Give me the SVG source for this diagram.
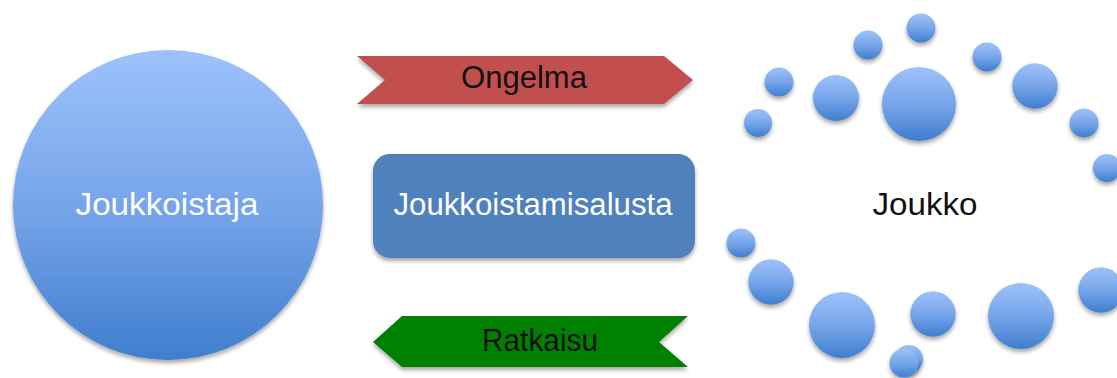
<svg xmlns="http://www.w3.org/2000/svg" width="1117" height="378" viewBox="0 0 1117 378">
  <style>
    .lbl { font-family: "Liberation Sans", Arial, sans-serif; font-size: 31px; text-anchor: middle; }
    .white { fill: #ffffff; }
    .dark { fill: #111111; }
    .ball { fill: url(#blueGrad); filter: url(#shadow); }
  </style>
  <defs>
    <linearGradient id="blueGrad" x1="0" y1="0" x2="0" y2="1">
      <stop offset="0" stop-color="#9dc2fb"/>
      <stop offset="0.5" stop-color="#77a5ea"/>
      <stop offset="1" stop-color="#3f7ece"/>
    </linearGradient>
    <filter id="shadow" x="-20%" y="-20%" width="140%" height="150%">
      <feGaussianBlur in="SourceAlpha" stdDeviation="2"/>
      <feOffset dx="0" dy="3" result="b"/>
      <feComponentTransfer><feFuncA type="linear" slope="0.35"/></feComponentTransfer>
      <feMerge><feMergeNode/><feMergeNode in="SourceGraphic"/></feMerge>
    </filter>
  </defs>

  <rect width="1117" height="378" fill="#ffffff"/>

  <!-- crowdsourcer -->
  <g id="joukkoistaja">
    <circle class="ball" cx="168" cy="205" r="155"/>
    <text class="lbl white" x="167" y="215" textLength="183" lengthAdjust="spacingAndGlyphs">Joukkoistaja</text>
  </g>

  <!-- platform -->
  <g id="alusta">
    <rect x="373" y="154" width="322" height="104" rx="17" fill="#4f81bd" filter="url(#shadow)"/>
    <text class="lbl white" x="533" y="215" textLength="279" lengthAdjust="spacingAndGlyphs">Joukkoistamisalusta</text>
  </g>

  <!-- crowd -->
  <g id="joukko">
    <circle class="ball" cx="921" cy="28" r="14.5"/>
    <circle class="ball" cx="868" cy="45" r="14.5"/>
    <circle class="ball" cx="779" cy="82" r="14.5"/>
    <circle class="ball" cx="758" cy="123" r="14"/>
    <circle class="ball" cx="836" cy="98" r="23"/>
    <circle class="ball" cx="919" cy="104" r="37"/>
    <circle class="ball" cx="987" cy="57" r="14.5"/>
    <circle class="ball" cx="1035" cy="86" r="22.7"/>
    <circle class="ball" cx="1084" cy="123" r="14.5"/>
    <circle class="ball" cx="1107" cy="168" r="14"/>
    <circle class="ball" cx="741" cy="243" r="14.5"/>
    <circle class="ball" cx="771" cy="282" r="22.7"/>
    <circle class="ball" cx="842" cy="325" r="33"/>
    <circle class="ball" cx="933" cy="314" r="22.7"/>
    <circle class="ball" cx="1021" cy="316" r="33"/>
    <circle class="ball" cx="1101" cy="290" r="22.7"/>
    <circle class="ball" cx="909" cy="359" r="14"/>
    <circle class="ball" cx="904" cy="363" r="14.5"/>
    <text class="lbl dark" x="925" y="215" textLength="105" lengthAdjust="spacingAndGlyphs">Joukko</text>
  </g>

  <!-- flows between the parties -->
  <g id="connectors">
    <g id="ongelma">
      <polygon points="357,56 664,56 693,80 664,104 357,104 385,80" fill="#c0504d" filter="url(#shadow)"/>
      <text class="lbl dark" x="524" y="88" textLength="126" lengthAdjust="spacingAndGlyphs">Ongelma</text>
    </g>
    <g id="ratkaisu">
      <polygon points="373,342 402,316 688,316 659,342 688,367 402,367" fill="#008000" filter="url(#shadow)"/>
      <text class="lbl dark" x="540" y="351" textLength="116" lengthAdjust="spacingAndGlyphs">Ratkaisu</text>
    </g>
  </g>
</svg>
